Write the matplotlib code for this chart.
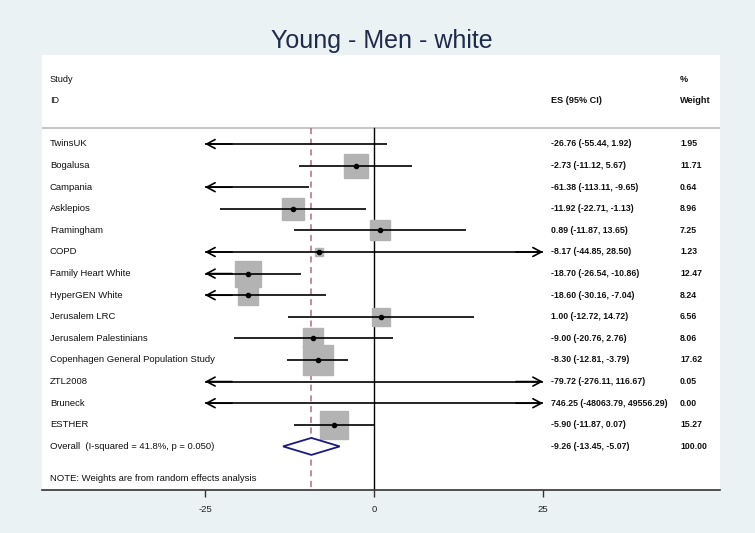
import matplotlib
matplotlib.use("Agg")
import matplotlib.pyplot as plt
from matplotlib.patches import Polygon
import numpy as np

plt.rcParams['font.family'] = ['Liberation Sans', 'DejaVu Sans']

title = "Young - Men - white"
studies = ["TwinsUK", "Bogalusa", "Campania", "Asklepios", "Framingham", "COPD",
           "Family Heart White", "HyperGEN White", "Jerusalem LRC",
           "Jerusalem Palestinians", "Copenhagen General Population Study",
           "ZTL2008", "Bruneck", "ESTHER"]
es = [-26.76, -2.73, -61.38, -11.92, 0.89, -8.17, -18.70, -18.60, 1.00,
      -9.00, -8.30, -79.72, 746.25, -5.90]
lo = [-55.44, -11.12, -113.11, -22.71, -11.87, -44.85, -26.54, -30.16, -12.72,
      -20.76, -12.81, -276.11, -48063.79, -11.87]
hi = [1.92, 5.67, -9.65, -1.13, 13.65, 28.50, -10.86, -7.04, 14.72,
      2.76, -3.79, 116.67, 49556.29, 0.07]
weights = [1.95, 11.71, 0.64, 8.96, 7.25, 1.23, 12.47, 8.24, 6.56,
           8.06, 17.62, 0.05, 0.00, 15.27]
overall_label = "Overall  (I-squared = 41.8%, p = 0.050)"
overall = (-9.26, -13.45, -5.07)
overall_weight = "100.00"
note = "NOTE: Weights are from random effects analysis"
xticks = [-25, 0, 25]
clip = (-25, 25)

W, H = 755, 533
fig = plt.figure(figsize=(W / 100, H / 100), dpi=100)
bg = '#EAF2F3'
fig.patch.set_facecolor(bg)

L, R, T, B = 42, 720, 55, 490
ax = fig.add_axes([L / W, 1 - B / H, (R - L) / W, (B - T) / H])
ax.set_facecolor('white')

px_per_unit = 169 / 25.0
x0 = 374
ax.set_xlim((L - x0) / px_per_unit, (R - x0) / px_per_unit)
row_h = 21.6
y_first = 144
ax.set_ylim((B - y_first) / row_h, (T - y_first) / row_h)

for s in ['top', 'right', 'left']:
    ax.spines[s].set_visible(False)
ax.spines['bottom'].set_color('#333333')
ax.spines['bottom'].set_linewidth(1.2)
ax.set_yticks([])
ax.set_xticks(xticks)
ax.set_xticklabels([str(t) for t in xticks])
ax.tick_params(axis='x', direction='out', length=5, width=1.0, color='#333333',
               labelsize=6.8, pad=6, labelcolor='#222222')

tx = ax.get_yaxis_transform()  # x in axes, y in data
def xa(px):
    return (px - L) / (R - L)

# header
hdr_fs = 6.6
ax.text(xa(50), -3, "Study", transform=tx, fontsize=hdr_fs, va='center', ha='left', color='#111111')
ax.text(xa(50), -2, "ID", transform=tx, fontsize=hdr_fs, va='center', ha='left', color='#111111')
ax.text(xa(551), -2, "ES (95% CI)", transform=tx, fontsize=hdr_fs, va='center', ha='left',
        fontweight='bold', color='#111111')
ax.text(xa(680), -3, "%", transform=tx, fontsize=hdr_fs, va='center', ha='left',
        fontweight='bold', color='#111111')
ax.text(xa(680), -2, "Weight", transform=tx, fontsize=hdr_fs, va='center', ha='left',
        fontweight='bold', color='#111111')
ax.axhline((128 - y_first) / row_h, color='#C8C8C8', lw=1.5)

# null line
n = len(studies)
ax.plot([0, 0], [(128 - y_first) / row_h, (B - y_first) / row_h], color='black', lw=1.0, zorder=2)
# overall dashed line
ax.plot([overall[0], overall[0]], [(128 - y_first) / row_h, (B - y_first) / row_h],
        color='#BF6878', lw=1.1, ls=(0, (4, 3)), zorder=2)

arrow_kw = dict(arrowstyle='->,head_length=0.6,head_width=0.32', color='black', lw=1.2,
                shrinkA=0, shrinkB=0)
for i, (name, e, l, h, w) in enumerate(zip(studies, es, lo, hi, weights)):
    y = i
    ax.text(xa(50), y, name, transform=tx, fontsize=6.8, va='center', ha='left', color='#111111')
    ax.text(xa(551), y, f"{e:.2f} ({l:.2f}, {h:.2f})", transform=tx, fontsize=6.3,
            va='center', ha='left', fontweight='bold', color='#111111')
    ax.text(xa(680), y, f"{w:.2f}", transform=tx, fontsize=6.3, va='center', ha='left',
            fontweight='bold', color='#111111')
    if clip[0] <= e <= clip[1] and w > 0:
        side_pt = 5.15 * np.sqrt(w)
        ax.plot([e], [y], marker='s', ms=side_pt, color='#B3B3B3', mec='#B3B3B3',
                ls='none', zorder=3)
    cl = max(l, clip[0])
    ch = min(h, clip[1])
    ax.plot([cl, ch], [y, y], color='black', lw=1.2, zorder=4, solid_capstyle='butt')
    if l < clip[0]:
        ax.annotate('', xy=(clip[0], y), xytext=(clip[0] + 4, y), arrowprops=arrow_kw, zorder=4)
    if h > clip[1]:
        ax.annotate('', xy=(clip[1], y), xytext=(clip[1] - 4, y), arrowprops=arrow_kw, zorder=4)
    if clip[0] <= e <= clip[1]:
        ax.plot([e], [y], marker='o', ms=3.0, color='black', ls='none', zorder=5)

# overall
yo = n
ax.text(xa(50), yo, overall_label, transform=tx, fontsize=6.8, va='center', ha='left', color='#111111')
ax.text(xa(551), yo, f"{overall[0]:.2f} ({overall[1]:.2f}, {overall[2]:.2f})", transform=tx,
        fontsize=6.3, va='center', ha='left', fontweight='bold', color='#111111')
ax.text(xa(680), yo, overall_weight, transform=tx, fontsize=6.3, va='center', ha='left',
        fontweight='bold', color='#111111')
dh = 8.5 / row_h
diamond = Polygon([[overall[1], yo], [overall[0], yo - dh], [overall[2], yo], [overall[0], yo + dh]],
                  closed=True, fill=True, facecolor='white', edgecolor='#1A1A80', lw=1.3, zorder=6)
ax.add_patch(diamond)

ax.text(xa(50), (479 - y_first) / row_h, note, transform=tx, fontsize=6.8, va='center',
        ha='left', color='#111111')

fig.text(382 / W, 1 - 41 / H, title, fontsize=18, color='#1E2B4A', ha='center', va='center')

fig.savefig("out.png", dpi=100, facecolor=bg)
